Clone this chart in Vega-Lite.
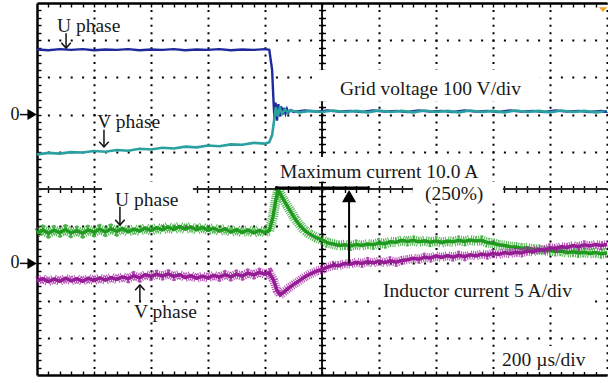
{
 "$schema": "https://vega.github.io/schema/vega-lite/v6.json",
 "width": 570, "height": 372,
 "autosize": {"type": "none"},
 "padding": {"left": 37, "top": 3, "right": 1, "bottom": 8},
 "background": "white",
 "config": {"view": {"stroke": null}, "axis": {"title": null, "labels": false}},
 "resolve": {"axis": {"x": "independent", "y": "independent"}},
 "datasets": {
  "center": [{"t": 1000, "v": 0}],
  "boxes": [
   {"t": 965, "t2": 1765, "v": 3.2, "v2": 2.36},
   {"t": 835, "t2": 1589, "v": 0.86, "v2": 0.2},
   {"t": 1319, "t2": 1635, "v": 0.2, "v2": -0.38},
   {"t": 228, "t2": 547, "v": 0.2, "v2": -0.62},
   {"t": 1175, "t2": 1958, "v": -2.26, "v2": -3.17},
   {"t": 1618, "t2": 1968, "v": -4.22, "v2": -4.92}
  ],
  "vu": [{"t":0,"v":3.75},{"t":40,"v":3.73},{"t":80,"v":3.76},{"t":120,"v":3.74},{"t":160,"v":3.76},{"t":200,"v":3.73},{"t":240,"v":3.75},{"t":280,"v":3.74},{"t":320,"v":3.76},{"t":360,"v":3.73},{"t":400,"v":3.75},{"t":440,"v":3.74},{"t":480,"v":3.76},{"t":520,"v":3.73},{"t":560,"v":3.75},{"t":600,"v":3.74},{"t":640,"v":3.76},{"t":680,"v":3.73},{"t":720,"v":3.75},{"t":760,"v":3.74},{"t":800,"v":3.76},{"t":815,"v":3.74},{"t":825,"v":3.2},{"t":829,"v":2.5},{"t":833,"v":1.9},{"t":837,"v":2.32},{"t":842,"v":1.84},{"t":847,"v":2.28},{"t":852,"v":1.95},{"t":857,"v":2.22},{"t":862,"v":2.0},{"t":867,"v":2.18},{"t":872,"v":2.03},{"t":877,"v":2.15},{"t":882,"v":2.05},{"t":890,"v":2.12},{"t":900,"v":2.07},{"t":940,"v":2.11},{"t":980,"v":2.08},{"t":1020,"v":2.11},{"t":1060,"v":2.08},{"t":1100,"v":2.1},{"t":1140,"v":2.07},{"t":1180,"v":2.11},{"t":1220,"v":2.08},{"t":1260,"v":2.1},{"t":1300,"v":2.07},{"t":1340,"v":2.11},{"t":1380,"v":2.08},{"t":1420,"v":2.1},{"t":1460,"v":2.07},{"t":1500,"v":2.11},{"t":1540,"v":2.08},{"t":1580,"v":2.1},{"t":1620,"v":2.07},{"t":1660,"v":2.11},{"t":1700,"v":2.08},{"t":1740,"v":2.1},{"t":1780,"v":2.07},{"t":1820,"v":2.11},{"t":1860,"v":2.08},{"t":1900,"v":2.1},{"t":1940,"v":2.07},{"t":1980,"v":2.1},{"t":2000,"v":2.08}],
  "vv": [{"t":0,"v":0.93},{"t":40,"v":0.97},{"t":80,"v":0.95},{"t":120,"v":0.99},{"t":160,"v":0.98},{"t":200,"v":1.02},{"t":240,"v":1.0},{"t":280,"v":1.05},{"t":320,"v":1.03},{"t":360,"v":1.08},{"t":400,"v":1.06},{"t":440,"v":1.11},{"t":480,"v":1.09},{"t":520,"v":1.14},{"t":560,"v":1.12},{"t":600,"v":1.17},{"t":640,"v":1.15},{"t":680,"v":1.2},{"t":720,"v":1.19},{"t":760,"v":1.24},{"t":800,"v":1.22},{"t":815,"v":1.26},{"t":825,"v":1.45},{"t":832,"v":1.85},{"t":838,"v":2.2},{"t":845,"v":1.95},{"t":852,"v":2.18},{"t":860,"v":2.02},{"t":870,"v":2.14},{"t":880,"v":2.06},{"t":890,"v":2.11},{"t":920,"v":2.06},{"t":960,"v":2.1},{"t":1000,"v":2.07},{"t":1040,"v":2.11},{"t":1080,"v":2.07},{"t":1120,"v":2.1},{"t":1160,"v":2.06},{"t":1200,"v":2.11},{"t":1240,"v":2.07},{"t":1280,"v":2.1},{"t":1320,"v":2.06},{"t":1360,"v":2.11},{"t":1400,"v":2.07},{"t":1440,"v":2.1},{"t":1480,"v":2.06},{"t":1520,"v":2.11},{"t":1560,"v":2.07},{"t":1600,"v":2.1},{"t":1640,"v":2.06},{"t":1680,"v":2.11},{"t":1720,"v":2.07},{"t":1760,"v":2.1},{"t":1800,"v":2.06},{"t":1840,"v":2.11},{"t":1880,"v":2.07},{"t":1920,"v":2.1},{"t":1960,"v":2.06},{"t":2000,"v":2.09}],
  "iu": [{"t":0,"v":-1.18},{"t":20,"v":-1.1},{"t":40,"v":-1.19},{"t":60,"v":-1.11},{"t":80,"v":-1.17},{"t":100,"v":-1.09},{"t":120,"v":-1.18},{"t":140,"v":-1.12},{"t":160,"v":-1.19},{"t":180,"v":-1.1},{"t":200,"v":-1.16},{"t":220,"v":-1.08},{"t":240,"v":-1.15},{"t":260,"v":-1.07},{"t":280,"v":-1.14},{"t":300,"v":-1.06},{"t":320,"v":-1.15},{"t":340,"v":-1.08},{"t":360,"v":-1.13},{"t":380,"v":-1.05},{"t":400,"v":-1.12},{"t":420,"v":-1.04},{"t":440,"v":-1.1},{"t":460,"v":-1.02},{"t":480,"v":-1.09},{"t":500,"v":-1.01},{"t":520,"v":-1.08},{"t":540,"v":-1.02},{"t":560,"v":-1.1},{"t":580,"v":-1.03},{"t":600,"v":-1.11},{"t":620,"v":-1.05},{"t":640,"v":-1.13},{"t":660,"v":-1.07},{"t":680,"v":-1.16},{"t":700,"v":-1.09},{"t":720,"v":-1.17},{"t":740,"v":-1.1},{"t":760,"v":-1.18},{"t":780,"v":-1.11},{"t":800,"v":-1.17},{"t":815,"v":-1.12},{"t":828,"v":-0.75},{"t":838,"v":-0.3},{"t":846,"v":-0.03},{"t":855,"v":-0.15},{"t":870,"v":-0.35},{"t":888,"v":-0.58},{"t":905,"v":-0.8},{"t":923,"v":-0.98},{"t":940,"v":-1.12},{"t":958,"v":-1.22},{"t":980,"v":-1.31},{"t":1004,"v":-1.38},{"t":1020,"v":-1.45},{"t":1040,"v":-1.48},{"t":1060,"v":-1.52},{"t":1080,"v":-1.5},{"t":1100,"v":-1.53},{"t":1120,"v":-1.49},{"t":1140,"v":-1.52},{"t":1160,"v":-1.48},{"t":1180,"v":-1.5},{"t":1200,"v":-1.45},{"t":1220,"v":-1.47},{"t":1240,"v":-1.42},{"t":1260,"v":-1.43},{"t":1280,"v":-1.38},{"t":1300,"v":-1.41},{"t":1320,"v":-1.38},{"t":1340,"v":-1.42},{"t":1360,"v":-1.39},{"t":1380,"v":-1.43},{"t":1400,"v":-1.4},{"t":1420,"v":-1.44},{"t":1440,"v":-1.4},{"t":1460,"v":-1.42},{"t":1480,"v":-1.38},{"t":1500,"v":-1.41},{"t":1520,"v":-1.37},{"t":1540,"v":-1.4},{"t":1560,"v":-1.38},{"t":1580,"v":-1.44},{"t":1600,"v":-1.46},{"t":1620,"v":-1.5},{"t":1640,"v":-1.52},{"t":1660,"v":-1.55},{"t":1680,"v":-1.56},{"t":1700,"v":-1.59},{"t":1720,"v":-1.58},{"t":1740,"v":-1.62},{"t":1760,"v":-1.62},{"t":1780,"v":-1.66},{"t":1800,"v":-1.65},{"t":1820,"v":-1.68},{"t":1840,"v":-1.67},{"t":1860,"v":-1.71},{"t":1880,"v":-1.69},{"t":1900,"v":-1.72},{"t":1920,"v":-1.7},{"t":1940,"v":-1.73},{"t":1960,"v":-1.71},{"t":1980,"v":-1.74},{"t":2000,"v":-1.72}],
  "iv": [{"t":0,"v":-2.47},{"t":20,"v":-2.41},{"t":40,"v":-2.49},{"t":60,"v":-2.42},{"t":80,"v":-2.48},{"t":100,"v":-2.4},{"t":120,"v":-2.47},{"t":140,"v":-2.41},{"t":160,"v":-2.48},{"t":180,"v":-2.4},{"t":200,"v":-2.46},{"t":220,"v":-2.39},{"t":240,"v":-2.45},{"t":260,"v":-2.38},{"t":280,"v":-2.43},{"t":300,"v":-2.36},{"t":320,"v":-2.41},{"t":340,"v":-2.33},{"t":360,"v":-2.39},{"t":380,"v":-2.3},{"t":400,"v":-2.35},{"t":420,"v":-2.29},{"t":440,"v":-2.34},{"t":460,"v":-2.28},{"t":480,"v":-2.35},{"t":500,"v":-2.3},{"t":520,"v":-2.38},{"t":540,"v":-2.33},{"t":560,"v":-2.4},{"t":580,"v":-2.34},{"t":600,"v":-2.39},{"t":620,"v":-2.32},{"t":640,"v":-2.37},{"t":660,"v":-2.3},{"t":680,"v":-2.36},{"t":700,"v":-2.29},{"t":720,"v":-2.34},{"t":740,"v":-2.26},{"t":760,"v":-2.31},{"t":780,"v":-2.24},{"t":800,"v":-2.29},{"t":815,"v":-2.25},{"t":830,"v":-2.45},{"t":842,"v":-2.72},{"t":853,"v":-2.85},{"t":865,"v":-2.78},{"t":880,"v":-2.68},{"t":900,"v":-2.57},{"t":923,"v":-2.45},{"t":940,"v":-2.36},{"t":960,"v":-2.28},{"t":980,"v":-2.21},{"t":1004,"v":-2.15},{"t":1020,"v":-2.1},{"t":1040,"v":-2.05},{"t":1060,"v":-2.06},{"t":1080,"v":-2.0},{"t":1100,"v":-2.02},{"t":1120,"v":-1.97},{"t":1140,"v":-2.0},{"t":1160,"v":-1.95},{"t":1180,"v":-1.99},{"t":1200,"v":-1.94},{"t":1220,"v":-1.98},{"t":1240,"v":-1.93},{"t":1260,"v":-1.97},{"t":1280,"v":-1.92},{"t":1300,"v":-1.9},{"t":1320,"v":-1.86},{"t":1340,"v":-1.89},{"t":1360,"v":-1.83},{"t":1380,"v":-1.86},{"t":1400,"v":-1.8},{"t":1420,"v":-1.84},{"t":1440,"v":-1.79},{"t":1460,"v":-1.83},{"t":1480,"v":-1.78},{"t":1500,"v":-1.82},{"t":1520,"v":-1.77},{"t":1540,"v":-1.8},{"t":1560,"v":-1.75},{"t":1580,"v":-1.78},{"t":1600,"v":-1.73},{"t":1620,"v":-1.76},{"t":1640,"v":-1.71},{"t":1660,"v":-1.74},{"t":1680,"v":-1.7},{"t":1700,"v":-1.72},{"t":1720,"v":-1.67},{"t":1740,"v":-1.69},{"t":1760,"v":-1.63},{"t":1780,"v":-1.64},{"t":1800,"v":-1.58},{"t":1820,"v":-1.6},{"t":1840,"v":-1.55},{"t":1860,"v":-1.57},{"t":1880,"v":-1.52},{"t":1900,"v":-1.55},{"t":1920,"v":-1.5},{"t":1940,"v":-1.53},{"t":1960,"v":-1.49},{"t":1980,"v":-1.52},{"t":2000,"v":-1.49}],
  "maxline": [{"t": 835, "t2": 1168, "v": 0.03}],
  "bigarrow": [{"t": 1095, "v": -2.0, "v2": -0.3, "vh": -0.19}],
  "arrows": [
   {"t": 102, "v": 4.19, "v2": 3.79, "dir": "down"},
   {"t": 235, "v": 1.59, "v2": 1.13, "dir": "down"},
   {"t": 291, "v": -0.48, "v2": -0.97, "dir": "down"},
   {"t": 361, "v": -3.01, "v2": -2.58, "dir": "up"}
  ],
  "zeros": [
   {"v": 2, "tt": -61, "t1": -60, "t2": -25, "ta": -17},
   {"v": -2, "tt": -61, "t1": -60, "t2": -25, "ta": -17}
  ],
  "labels": [
   {"t": 70, "v": 4.22, "label": "U phase"},
   {"t": 211, "v": 1.64, "label": "V phase"},
   {"t": 1063, "v": 2.53, "label": "Grid voltage 100 V/div"},
   {"t": 853, "v": 0.29, "label": "Maximum current 10.0 A"},
   {"t": 1361, "v": -0.3, "label": "(250%)"},
   {"t": 274, "v": -0.46, "label": "U phase"},
   {"t": 340, "v": -3.47, "label": "V phase"},
   {"t": 1214, "v": -2.9, "label": "Inductor current 5 A/div"},
   {"t": 1632, "v": -4.76, "label": "200 µs/div"}
  ],
  "markers": [
   {"t": 1986, "v": 4.76, "kind": "trigger"},
   {"t": 1995, "v": 2.12, "kind": "ch1"}
  ]
 },
 "layer": [
  {"data": {"name": "center"}, "mark": {"type": "rule", "color": "#000", "strokeWidth": 1.8},
   "encoding": {"x": {"field": "t", "type": "quantitative", "scale": {"domain": [0, 2000], "nice": false, "zero": false}, "axis": null}}},
  {"data": {"name": "center"}, "mark": {"type": "rule", "color": "#2a2a2a", "strokeWidth": 2.2},
   "encoding": {"y": {"field": "v", "type": "quantitative", "scale": {"domain": [-5, 5], "nice": false, "zero": false}, "axis": null}}},
  {"data": {"name": "boxes"}, "mark": {"type": "rect", "fill": "#ffffff"},
   "encoding": {
    "x": {"field": "t", "type": "quantitative", "scale": {"domain": [0, 2000], "nice": false, "zero": false},
     "axis": {"orient": "bottom", "values": [200,400,600,800,1000,1200,1400,1600,1800,2000], "grid": true, "gridColor": "#000", "gridDash": [2, 5.44], "gridDashOffset": 1, "gridWidth": 2, "gridOpacity": 1, "ticks": false, "labels": false, "domain": true, "domainColor": "#000", "domainWidth": 2.5, "title": null}},
    "x2": {"field": "t2"},
    "y": {"field": "v", "type": "quantitative", "scale": {"domain": [-5, 5], "nice": false, "zero": false},
     "axis": {"orient": "left", "values": [-4,-3,-2,-1,1,2,3,4], "grid": true, "gridColor": "#000", "gridDash": [2, 9.4], "gridDashOffset": 1, "gridWidth": 2, "gridOpacity": 1, "ticks": false, "labels": false, "domain": true, "domainColor": "#000", "domainWidth": 2.5, "title": null}},
    "y2": {"field": "v2"}}},
  {"data": {"name": "vu"}, "mark": {"type": "line", "color": "#1e2a9c", "strokeWidth": 2.4},
   "encoding": {
    "x": {"field": "t", "type": "quantitative", "scale": {"domain": [0, 2000], "nice": false, "zero": false},
     "axis": {"orient": "bottom", "values": [40,80,120,160,200,240,280,320,360,400,440,480,520,560,600,640,680,720,760,800,840,880,920,960,1000,1040,1080,1120,1160,1200,1240,1280,1320,1360,1400,1440,1480,1520,1560,1600,1640,1680,1720,1760,1800,1840,1880,1920,1960], "ticks": true, "tickSize": -4, "tickColor": "#000", "tickWidth": 1.4, "labels": false, "domain": false, "grid": false, "title": null}},
    "y": {"field": "v", "type": "quantitative", "scale": {"domain": [-5, 5], "nice": false, "zero": false},
     "axis": {"orient": "left", "values": [-4.8,-4.6,-4.4,-4.2,-4,-3.8,-3.6,-3.4,-3.2,-3,-2.8,-2.6,-2.4,-2.2,-2,-1.8,-1.6,-1.4,-1.2,-1,-0.8,-0.6,-0.4,-0.2,0,0.2,0.4,0.6,0.8,1,1.2,1.4,1.6,1.8,2,2.2,2.4,2.6,2.8,3,3.2,3.4,3.6,3.8,4,4.2,4.4,4.6,4.8], "ticks": true, "tickSize": -4, "tickColor": "#000", "tickWidth": 1.4, "labels": false, "domain": false, "grid": false, "title": null}}}},
  {"data": {"name": "vv"}, "mark": {"type": "line", "color": "#2aa0a0", "strokeWidth": 2.6},
   "encoding": {
    "x": {"field": "t", "type": "quantitative", "scale": {"domain": [0, 2000], "nice": false, "zero": false},
     "axis": {"orient": "top", "values": [40,80,120,160,200,240,280,320,360,400,440,480,520,560,600,640,680,720,760,800,840,880,920,960,1000,1040,1080,1120,1160,1200,1240,1280,1320,1360,1400,1440,1480,1520,1560,1600,1640,1680,1720,1760,1800,1840,1880,1920,1960], "ticks": true, "tickSize": -4, "tickColor": "#000", "tickWidth": 1.4, "labels": false, "domain": true, "domainColor": "#000", "domainWidth": 2.5, "grid": false, "title": null}},
    "y": {"field": "v", "type": "quantitative", "scale": {"domain": [-5, 5], "nice": false, "zero": false},
     "axis": {"orient": "left", "offset": -288.5, "values": [-4.8,-4.6,-4.4,-4.2,-4,-3.8,-3.6,-3.4,-3.2,-3,-2.8,-2.6,-2.4,-2.2,-2,-1.8,-1.6,-1.4,-1.2,-1,-0.8,-0.6,-0.4,-0.2,0,0.2,0.4,0.6,0.8,1,1.2,1.4,1.6,1.8,2,2.2,2.4,2.6,2.8,3,3.2,3.4,3.6,3.8,4,4.2,4.4,4.6,4.8], "ticks": true, "tickSize": 7, "tickColor": "#000", "tickWidth": 1.4, "labels": false, "domain": false, "grid": false, "title": null}}}},
  {"data": {"name": "iu"}, "mark": {"type": "line", "color": "#22a022", "strokeWidth": 10, "strokeDash": [1, 1.1], "opacity": 0.8},
   "encoding": {
    "x": {"field": "t", "type": "quantitative", "scale": {"domain": [0, 2000], "nice": false, "zero": false},
     "axis": {"orient": "bottom", "offset": -189.5, "values": [40,80,120,160,200,240,280,320,360,400,440,480,520,560,600,640,680,720,760,800,840,880,920,960,1000,1040,1080,1120,1160,1200,1240,1280,1320,1360,1400,1440,1480,1520,1560,1600,1640,1680,1720,1760,1800,1840,1880,1920,1960], "ticks": true, "tickSize": 7, "tickColor": "#000", "tickWidth": 1.4, "labels": false, "domain": false, "grid": false, "title": null}},
    "y": {"field": "v", "type": "quantitative", "scale": {"domain": [-5, 5], "nice": false, "zero": false}, "axis": null}}},
  {"data": {"name": "iu"}, "mark": {"type": "line", "color": "#1f9a1f", "strokeWidth": 3.5},
   "encoding": {
    "x": {"field": "t", "type": "quantitative", "scale": {"domain": [0, 2000], "nice": false, "zero": false}, "axis": null},
    "y": {"field": "v", "type": "quantitative", "scale": {"domain": [-5, 5], "nice": false, "zero": false}, "axis": null}}},
  {"data": {"name": "iv"}, "mark": {"type": "line", "color": "#a020a0", "strokeWidth": 9, "strokeDash": [1, 1.1], "opacity": 0.8},
   "encoding": {
    "x": {"field": "t", "type": "quantitative", "scale": {"domain": [0, 2000], "nice": false, "zero": false}, "axis": null},
    "y": {"field": "v", "type": "quantitative", "scale": {"domain": [-5, 5], "nice": false, "zero": false}, "axis": null}}},
  {"data": {"name": "iv"}, "mark": {"type": "line", "color": "#951c95", "strokeWidth": 3.5},
   "encoding": {
    "x": {"field": "t", "type": "quantitative", "scale": {"domain": [0, 2000], "nice": false, "zero": false}, "axis": null},
    "y": {"field": "v", "type": "quantitative", "scale": {"domain": [-5, 5], "nice": false, "zero": false}, "axis": null}}},
  {"data": {"name": "maxline"}, "mark": {"type": "rule", "color": "#000", "strokeWidth": 3},
   "encoding": {
    "x": {"field": "t", "type": "quantitative", "scale": {"domain": [0, 2000], "nice": false, "zero": false}, "axis": null},
    "x2": {"field": "t2"},
    "y": {"field": "v", "type": "quantitative", "scale": {"domain": [-5, 5], "nice": false, "zero": false}, "axis": null}}},
  {"data": {"name": "bigarrow"}, "mark": {"type": "rule", "color": "#000", "strokeWidth": 2},
   "encoding": {
    "x": {"field": "t", "type": "quantitative", "scale": {"domain": [0, 2000], "nice": false, "zero": false}, "axis": null},
    "y": {"field": "v", "type": "quantitative", "scale": {"domain": [-5, 5], "nice": false, "zero": false}, "axis": null},
    "y2": {"field": "v2"}}},
  {"data": {"name": "bigarrow"}, "mark": {"type": "point", "shape": "triangle-up", "filled": true, "color": "#000", "size": 200, "opacity": 1},
   "encoding": {
    "x": {"field": "t", "type": "quantitative", "scale": {"domain": [0, 2000], "nice": false, "zero": false}, "axis": null},
    "y": {"field": "vh", "type": "quantitative", "scale": {"domain": [-5, 5], "nice": false, "zero": false}, "axis": null}}},
  {"data": {"name": "arrows"}, "mark": {"type": "rule", "color": "#111", "strokeWidth": 1.5},
   "encoding": {
    "x": {"field": "t", "type": "quantitative", "scale": {"domain": [0, 2000], "nice": false, "zero": false}, "axis": null},
    "y": {"field": "v", "type": "quantitative", "scale": {"domain": [-5, 5], "nice": false, "zero": false}, "axis": null},
    "y2": {"field": "v2"}}},
  {"data": {"name": "arrows"}, "mark": {"type": "point", "filled": false, "color": "#111", "strokeWidth": 1.5, "size": 90, "opacity": 1},
   "encoding": {
    "x": {"field": "t", "type": "quantitative", "scale": {"domain": [0, 2000], "nice": false, "zero": false}, "axis": null},
    "y": {"field": "v2", "type": "quantitative", "scale": {"domain": [-5, 5], "nice": false, "zero": false}, "axis": null},
    "shape": {"field": "dir", "type": "nominal", "scale": {"domain": ["down", "up"], "range": ["M-1,-1.1L0,0L1,-1.1", "M-1,1.1L0,0L1,1.1"]}, "legend": null}}},
  {"data": {"name": "zeros"}, "mark": {"type": "text", "font": "Liberation Serif", "fontSize": 18, "color": "#111", "align": "right", "baseline": "middle"},
   "encoding": {
    "x": {"field": "tt", "type": "quantitative", "scale": {"domain": [0, 2000], "nice": false, "zero": false}, "axis": null},
    "y": {"field": "v", "type": "quantitative", "scale": {"domain": [-5, 5], "nice": false, "zero": false}, "axis": null},
    "text": {"value": "0"}}},
  {"data": {"name": "zeros"}, "mark": {"type": "rule", "color": "#111", "strokeWidth": 1.5},
   "encoding": {
    "x": {"field": "t1", "type": "quantitative", "scale": {"domain": [0, 2000], "nice": false, "zero": false}, "axis": null},
    "x2": {"field": "t2"},
    "y": {"field": "v", "type": "quantitative", "scale": {"domain": [-5, 5], "nice": false, "zero": false}, "axis": null}}},
  {"data": {"name": "zeros"}, "mark": {"type": "point", "shape": "triangle-right", "filled": true, "color": "#000", "size": 120, "opacity": 1},
   "encoding": {
    "x": {"field": "ta", "type": "quantitative", "scale": {"domain": [0, 2000], "nice": false, "zero": false}, "axis": null},
    "y": {"field": "v", "type": "quantitative", "scale": {"domain": [-5, 5], "nice": false, "zero": false}, "axis": null}}},
  {"data": {"name": "labels"}, "mark": {"type": "text", "font": "Liberation Serif", "fontSize": 19.5, "color": "#1a1a1a", "align": "left", "baseline": "alphabetic"},
   "encoding": {
    "x": {"field": "t", "type": "quantitative", "scale": {"domain": [0, 2000], "nice": false, "zero": false}, "axis": null},
    "y": {"field": "v", "type": "quantitative", "scale": {"domain": [-5, 5], "nice": false, "zero": false}, "axis": null},
    "text": {"field": "label"}}},
  {"data": {"name": "markers"}, "mark": {"type": "point", "filled": true, "opacity": 1},
   "encoding": {
    "x": {"field": "t", "type": "quantitative", "scale": {"domain": [0, 2000], "nice": false, "zero": false}, "axis": null},
    "y": {"field": "v", "type": "quantitative", "scale": {"domain": [-5, 5], "nice": false, "zero": false}, "axis": null},
    "shape": {"field": "kind", "type": "nominal", "scale": {"domain": ["trigger", "ch1"], "range": ["square", "circle"]}, "legend": null},
    "color": {"field": "kind", "type": "nominal", "scale": {"domain": ["trigger", "ch1"], "range": ["#f5a01e", "#2a3ab0"]}, "legend": null},
    "size": {"field": "kind", "type": "nominal", "scale": {"domain": ["trigger", "ch1"], "range": [70, 25]}, "legend": null}}}
 ]
}
